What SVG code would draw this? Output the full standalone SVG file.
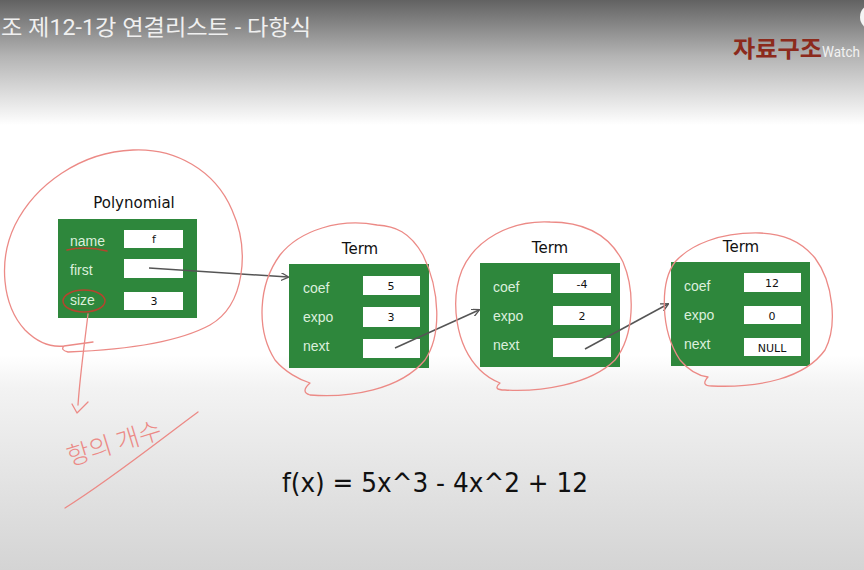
<svg xmlns="http://www.w3.org/2000/svg" width="864" height="570" viewBox="0 0 864 570">
<defs>
<linearGradient id="topg" x1="0" y1="0" x2="0" y2="1">
<stop offset="0" stop-color="#626262"/>
<stop offset="0.45" stop-color="#b4b4b4"/>
<stop offset="1" stop-color="#ffffff"/>
</linearGradient>
<linearGradient id="botg" x1="0" y1="0" x2="0" y2="1">
<stop offset="0" stop-color="#ffffff"/>
<stop offset="0.15" stop-color="#f3f3f3"/>
<stop offset="1" stop-color="#d4d4d4"/>
</linearGradient>
<marker id="arr" viewBox="0 0 10 10" refX="9" refY="5" markerWidth="8" markerHeight="8" markerUnits="userSpaceOnUse" orient="auto">
<path d="M0,0 L10,5 L0,10" fill="none" stroke="#555" stroke-width="1.6"/>
</marker>
<style>
.box{fill:#2e873c}
.cell{fill:#ffffff}
.lbl{font-family:"Liberation Sans",Arial,sans-serif;font-size:14px;fill:#dcefdc}
.val{font-family:"DejaVu Sans",sans-serif;font-size:11px;fill:#111;text-anchor:middle}
.ttl{font-family:"DejaVu Sans",sans-serif;font-size:15px;fill:#111;text-anchor:middle}
.ink{fill:none;stroke:#ec8a86;stroke-width:1.3;stroke-linecap:round;stroke-linejoin:round}
.ink2{fill:none;stroke:#b4452e;stroke-width:1.5;stroke-linecap:round}
.conn{stroke:#555;stroke-width:1.5;fill:none}
</style>
</defs>
<rect x="0" y="0" width="864" height="570" fill="#ffffff"/>
<rect x="0" y="0" width="864" height="125" fill="url(#topg)"/>
<rect x="0" y="355" width="864" height="215" fill="url(#botg)"/>
<text x="1" y="35" font-family="Roboto,'Noto Sans CJK KR',sans-serif" font-size="22" fill="#f0f0f0" textLength="310" lengthAdjust="spacingAndGlyphs">조 제12-1강 연결리스트 - 다항식</text>
<text x="733" y="57" font-family="'Noto Sans CJK KR',sans-serif" font-size="23" font-weight="bold" fill="#8c2a1c" textLength="89" lengthAdjust="spacingAndGlyphs">자료구조</text>
<text x="822" y="57" font-family="Roboto,sans-serif" font-size="15" fill="#f2f2f2" textLength="38" lengthAdjust="spacingAndGlyphs">Watch</text>
<circle cx="873" cy="17" r="13" fill="#f4f4f4"/>

<g id="polynomial">
<text class="ttl" x="134" y="208">Polynomial</text>
<rect class="box" x="58" y="219" width="139" height="99"/>
<text class="lbl" x="70" y="246">name</text>
<rect class="cell" x="124" y="230" width="59" height="18"/>
<text class="val" x="154" y="243">f</text>
<text class="lbl" x="70" y="275">first</text>
<rect class="cell" x="124" y="259" width="59" height="19"/>
<text class="lbl" x="70" y="305">size</text>
<rect class="cell" x="124" y="292" width="59" height="18"/>
<text class="val" x="154" y="305">3</text>
</g>

<g id="term1">
<text class="ttl" x="360" y="254">Term</text>
<rect class="box" x="289" y="264" width="140" height="104"/>
<text class="lbl" x="303" y="293">coef</text>
<rect class="cell" x="363" y="276" width="57" height="19"/>
<text class="val" x="391" y="290">5</text>
<text class="lbl" x="303" y="322">expo</text>
<rect class="cell" x="363" y="307" width="57" height="20"/>
<text class="val" x="391" y="321">3</text>
<text class="lbl" x="303" y="351">next</text>
<rect class="cell" x="363" y="339" width="57" height="19"/>
</g>

<g id="term2">
<text class="ttl" x="550" y="253">Term</text>
<rect class="box" x="480" y="263" width="140" height="104"/>
<text class="lbl" x="493" y="292">coef</text>
<rect class="cell" x="553" y="274" width="58" height="19"/>
<text class="val" x="582" y="288">-4</text>
<text class="lbl" x="493" y="321">expo</text>
<rect class="cell" x="553" y="306" width="58" height="19"/>
<text class="val" x="582" y="320">2</text>
<text class="lbl" x="493" y="350">next</text>
<rect class="cell" x="553" y="338" width="58" height="19"/>
</g>

<g id="term3">
<text class="ttl" x="741" y="252">Term</text>
<rect class="box" x="671" y="262" width="139" height="104"/>
<text class="lbl" x="684" y="291">coef</text>
<rect class="cell" x="744" y="273" width="57" height="19"/>
<text class="val" x="772" y="287">12</text>
<text class="lbl" x="684" y="320">expo</text>
<rect class="cell" x="744" y="306" width="57" height="18"/>
<text class="val" x="772" y="320">0</text>
<text class="lbl" x="684" y="349">next</text>
<rect class="cell" x="744" y="338" width="57" height="18"/>
<text class="val" x="772" y="352">NULL</text>
</g>

<g id="connectors">
<path class="conn" d="M149,268 L288,277" marker-end="url(#arr)"/>
<path class="conn" d="M395,348 L479,310" marker-end="url(#arr)"/>
<path class="conn" d="M585,349 L668,304" marker-end="url(#arr)"/>
</g>

<g id="annotations">
<path class="ink" d="M93,342 L64,346 Q60,350 68,352 C120,350 175,344 210,325 C245,305 250,250 232,210 C215,170 175,148 133,150 C80,152 35,185 15,225 C-2,260 2,305 25,330 C40,345 55,347 64,346"/>
<path class="ink" d="M377,225 C340,218 300,230 280,255 C258,285 256,330 275,360 C285,372 300,380 310,383 Q300,392 310,395 C350,398 400,390 425,360 C442,335 440,290 423,255 C410,232 395,226 377,225"/>
<path class="ink" d="M550,222 C510,220 475,240 462,270 C450,300 455,345 480,370 C488,378 495,381 500,383 Q492,390 505,390 C540,392 590,385 615,360 C635,335 635,290 623,262 C608,232 580,222 550,222"/>
<path class="ink" d="M760,233 C720,232 690,245 675,262 C660,282 660,330 680,360 C690,372 700,376 708,377 Q700,386 712,386 C760,388 805,378 825,350 C838,325 833,282 815,258 C800,240 782,234 760,233"/>
<path class="ink2" d="M67,250 C80,247 95,248 107,251"/>
<ellipse class="ink2" cx="84" cy="301" rx="21" ry="11"/>
<path class="ink" d="M88,314 C85,340 80,375 78,405"/>
<path class="ink" d="M72,404 L77,413 L88,402"/>
<text x="0" y="0" transform="translate(70,466) rotate(-17)" font-family="'Noto Sans CJK KR',sans-serif" font-size="25" font-weight="300" fill="#ec8a86">항의 개수</text>
<path class="ink" d="M65,508 C110,480 160,440 198,412"/>
</g>

<text x="282" y="492" font-family="'DejaVu Sans',sans-serif" font-size="26" fill="#111" textLength="306" lengthAdjust="spacingAndGlyphs">f(x) = 5x^3 - 4x^2 + 12</text>
</svg>
